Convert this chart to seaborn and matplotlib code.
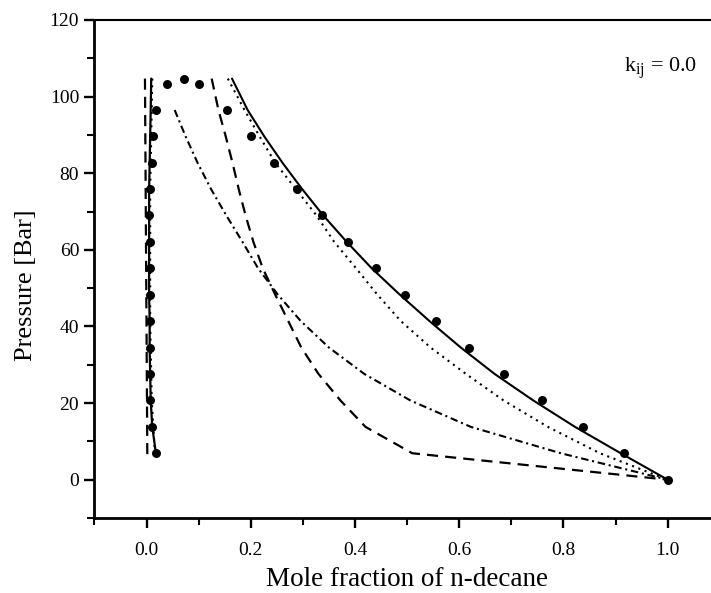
import numpy as np
import pandas as pd
import matplotlib
matplotlib.use("Agg")
import matplotlib.pyplot as plt
import seaborn as sns
from matplotlib.ticker import MultipleLocator

# ---------------- data ----------------
# pressure levels (bar) used by the computed curves
P_levels = [104.7, 96.5, 89.6, 82.7, 75.8, 69.0, 62.1, 55.2, 48.3, 41.4, 34.5, 27.6, 20.7, 13.8, 6.9, 0.0]

# solid curve (liquid branch)
solid_liq_x = [0.164, 0.194, 0.226, 0.261, 0.299, 0.339, 0.384, 0.432, 0.486, 0.543, 0.603, 0.668, 0.742, 0.822, 0.910, 1.000]
# solid curve (vapour branch)
solid_vap_P = [104.7, 96.5, 89.6, 82.7, 75.8, 69.0, 62.1, 55.2, 48.3, 41.4, 34.5, 27.6, 20.7, 13.8, 6.9]
solid_vap_x = [0.009, 0.008, 0.007, 0.006, 0.005, 0.005, 0.005, 0.005, 0.005, 0.006, 0.006, 0.007, 0.008, 0.011, 0.018]

# dotted curve
dotted_liq_x = [0.156, 0.188, 0.217, 0.247, 0.287, 0.326, 0.360, 0.402, 0.443, 0.488, 0.545, 0.613, 0.685, 0.770, 0.870, 1.000]
dotted_vap_x = [0.011, 0.010, 0.009, 0.008, 0.007, 0.007, 0.007, 0.007, 0.007, 0.007, 0.008, 0.009, 0.010, 0.013, 0.016]

# dashed curve
dashed_liq_x = [0.125, 0.138, 0.152, 0.165, 0.177, 0.190, 0.205, 0.223, 0.247, 0.272, 0.297, 0.330, 0.372, 0.420, 0.510, 1.000]
dashed_vap_P = [104.7, 6.5]
dashed_vap_x = [-0.003, 0.0015]

# dash-dot curve
dashdot_P = [96.5, 89.6, 82.7, 75.8, 69.0, 62.1, 55.2, 48.3, 41.4, 34.5, 27.6, 20.7, 13.8, 6.9, 0.0]
dashdot_liq_x = [0.054, 0.075, 0.098, 0.124, 0.153, 0.184, 0.214, 0.252, 0.296, 0.350, 0.418, 0.506, 0.622, 0.795, 1.000]

# experimental points
exp_vap_P = [6.9, 13.8, 20.7, 27.6, 34.5, 41.4, 48.3, 55.2, 62.1, 69.0, 75.8, 82.7, 89.6, 96.5, 103.4]
exp_vap_x = [0.019, 0.011, 0.007, 0.007, 0.007, 0.006, 0.006, 0.006, 0.006, 0.005, 0.007, 0.011, 0.013, 0.018, 0.039]
exp_crit_P = [104.6]
exp_crit_x = [0.071]
exp_liq_P = [103.4, 96.5, 89.6, 82.7, 75.8, 69.0, 62.1, 55.2, 48.3, 41.4, 34.5, 27.6, 20.7, 13.8, 6.9, 0.0]
exp_liq_x = [0.100, 0.154, 0.201, 0.244, 0.289, 0.337, 0.386, 0.440, 0.496, 0.555, 0.619, 0.686, 0.759, 0.837, 0.917, 1.000]

x_ticks = [0.0, 0.2, 0.4, 0.6, 0.8, 1.0]
y_ticks = [0, 20, 40, 60, 80, 100, 120]
x_label = "Mole fraction of n-decane"
y_label = "Pressure [Bar]"
annot = r"k$_{\mathrm{ij}}$ = 0.0"

# ---------------- style ----------------
sns.set_theme(style="ticks")
plt.rcParams["font.family"] = ["Liberation Serif", "DejaVu Serif"]
plt.rcParams["mathtext.fontset"] = "custom"
plt.rcParams["mathtext.rm"] = "Liberation Serif"
plt.rcParams["mathtext.it"] = "Liberation Serif:italic"

fig = plt.figure(figsize=(7.11, 5.93), dpi=100)
ax = fig.add_axes([0.1328, 0.1265, 0.8795, 0.8398])

black = "black"


def curve(xv, yv, **kw):
    df = pd.DataFrame({"x": xv, "y": yv})
    sns.lineplot(data=df, x="x", y="y", sort=False, estimator=None, ax=ax,
                 color=black, **kw)


# solid
curve(solid_liq_x, P_levels, linewidth=1.5, linestyle="-")
curve(solid_vap_x, solid_vap_P, linewidth=1.6, linestyle="-")
# dotted
curve(dotted_liq_x, P_levels, linewidth=1.5, linestyle=(0, (1.0, 2.2)))
curve(dotted_vap_x, solid_vap_P, linewidth=1.5, linestyle=(0, (1.0, 2.2)))
# dashed
curve(dashed_liq_x, P_levels, linewidth=1.6, linestyle=(0, (5.0, 3.2)))
curve(dashed_vap_x, dashed_vap_P, linewidth=1.6, linestyle=(0, (5.0, 3.2)))
# dash-dot
curve(dashdot_liq_x, dashdot_P, linewidth=1.5, linestyle=(0, (3.6, 1.8, 1.0, 1.8)))

# experimental points
pts = pd.DataFrame({
    "x": exp_vap_x + exp_crit_x + exp_liq_x,
    "y": exp_vap_P + exp_crit_P + exp_liq_P,
})
sns.scatterplot(data=pts, x="x", y="y", ax=ax, color=black, s=42,
                edgecolor=black, linewidth=0, zorder=5)

ax.set_xlim(-0.1, 1.1)
ax.set_ylim(-10, 120)
ax.set_xticks(x_ticks)
ax.set_xticklabels([f"{v:.1f}" for v in x_ticks])
ax.set_yticks(y_ticks)
ax.set_yticklabels([str(v) for v in y_ticks])
ax.xaxis.set_minor_locator(MultipleLocator(0.1))
ax.yaxis.set_minor_locator(MultipleLocator(10))

ax.tick_params(axis="both", which="major", direction="out", length=7, width=1.7,
               labelsize=14, color=black, labelcolor=black)
ax.tick_params(axis="both", which="minor", direction="out", length=5, width=1.5,
               color=black)
ax.tick_params(axis="x", which="major", pad=10)
ax.tick_params(axis="y", which="major", pad=4)
ax.tick_params(top=False, right=False, which="both")

for side in ["left", "bottom"]:
    ax.spines[side].set_linewidth(2.0)
    ax.spines[side].set_color(black)
ax.spines["top"].set_visible(True)
ax.spines["top"].set_linewidth(1.5)
ax.spines["top"].set_color(black)
ax.spines["right"].set_visible(False)

ax.set_xlabel(x_label, fontsize=19.5, labelpad=6, color=black)
ax.set_ylabel(y_label, fontsize=19, color=black)
ax.yaxis.set_label_coords(-0.092, 0.468)

ax.text(0.986, 107.3, annot, fontsize=16, ha="center", va="center", color=black)

fig.savefig("out.png", dpi=100)
